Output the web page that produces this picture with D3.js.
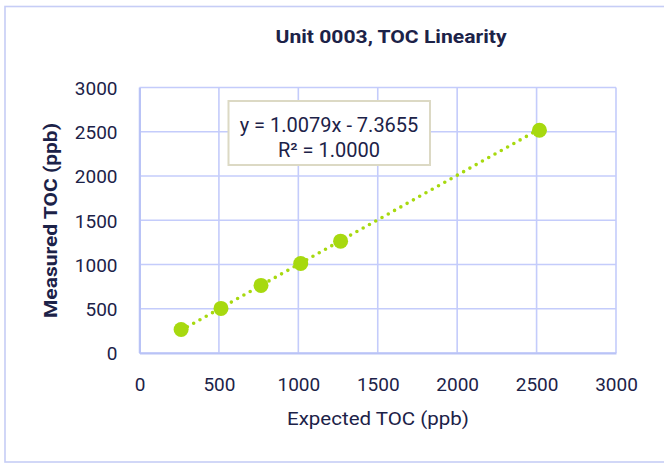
<!DOCTYPE html>
<html>
<head>
<meta charset="utf-8">
<script src="https://cdn.jsdelivr.net/npm/d3@7"></script>
<style>
  html, body { margin: 0; padding: 0; background: #fff; }
  svg { display: block; }
  text { font-family: Roboto, "Noto Sans", sans-serif; fill: #1c2248; }
</style>
</head>
<body>
<svg id="chart" width="664" height="464"></svg>
<script>
// ---- data ----
const chartTitle = "Unit 0003, TOC Linearity";
const xTitle = "Expected TOC (ppb)";
const yTitle = "Measured TOC (ppb)";
const expectedTOC = [262, 513, 765, 1015, 1266, 2518];
const measuredTOC = [265, 504, 764, 1012, 1264, 2517];
const xTicks = [0, 500, 1000, 1500, 2000, 2500, 3000];
const yTicks = [0, 500, 1000, 1500, 2000, 2500, 3000];
const trendSlope = 1.0079;
const trendIntercept = -7.3655;
const trendLabel = ["y = 1.0079x - 7.3655", "R² = 1.0000"];

// ---- layout ----
const svg = d3.select("#chart");
const x = d3.scaleLinear().domain([0, 3000]).range([139.5, 616]);
const y = d3.scaleLinear().domain([0, 3000]).range([353, 87.5]);
const gridColor = "#c4ccfb";
const green = "#a7d90f";

// outer border
svg.append("rect")
  .attr("x", 5).attr("y", 6.5).attr("width", 680).attr("height", 455.5)
  .attr("fill", "none").attr("stroke", "#c6cdf6").attr("stroke-width", 1.6);

// title
svg.append("text")
  .attr("x", 391).attr("y", 43)
  .attr("text-anchor", "middle")
  .attr("font-size", 18).attr("font-weight", "bold")
  .attr("textLength", 231).attr("lengthAdjust", "spacingAndGlyphs")
  .text(chartTitle);

// gridlines
svg.append("g").selectAll("line.v").data(xTicks).join("line")
  .attr("x1", d => x(d)).attr("x2", d => x(d))
  .attr("y1", y(3000)).attr("y2", y(0))
  .attr("stroke", gridColor).attr("stroke-width", 1.6);
svg.append("g").selectAll("line.h").data(yTicks).join("line")
  .attr("x1", x(0)).attr("x2", x(3000))
  .attr("y1", d => y(d)).attr("y2", d => y(d))
  .attr("stroke", gridColor).attr("stroke-width", 1.6);

// axes
const xAxis = d3.axisBottom(x).tickValues(xTicks).tickSize(0).tickPadding(0).tickFormat(d3.format("d"));
const yAxis = d3.axisLeft(y).tickValues(yTicks).tickSize(0).tickPadding(0).tickFormat(d3.format("d"));
const gx = svg.append("g").attr("transform", `translate(0,${y(0)})`).call(xAxis);
gx.select(".domain").attr("stroke", "#b9c3f6").attr("stroke-width", 2);
gx.selectAll("text").attr("y", 38).attr("dy", 0).attr("font-size", 19).attr("fill", "#1c2248");
const gy = svg.append("g").attr("transform", `translate(${x(0)},0)`).call(yAxis);
gy.select(".domain").attr("stroke", "#b9c3f6").attr("stroke-width", 2);
gy.selectAll("text").attr("x", -22).attr("dy", "0.36em").attr("font-size", 19).attr("fill", "#1c2248");
gx.attr("font-family", null); gy.attr("font-family", null);

// axis titles
svg.append("text")
  .attr("x", 378).attr("y", 425)
  .attr("text-anchor", "middle").attr("font-size", 19)
  .attr("textLength", 182).attr("lengthAdjust", "spacingAndGlyphs")
  .text(xTitle);
svg.append("text")
  .attr("transform", "translate(57,220.5) rotate(-90)")
  .attr("text-anchor", "middle").attr("font-size", 18).attr("font-weight", "bold")
  .attr("textLength", 195).attr("lengthAdjust", "spacingAndGlyphs")
  .text(yTitle);

// trendline (dotted)
const xMin = d3.min(expectedTOC), xMax = d3.max(expectedTOC);
const trend = [xMin, xMax].map(v => [v, trendSlope * v + trendIntercept]);
svg.append("path")
  .attr("d", d3.line().x(d => x(d[0])).y(d => y(d[1]))(trend))
  .attr("fill", "none").attr("stroke", green).attr("stroke-width", 3.6)
  .attr("stroke-linecap", "round").attr("stroke-dasharray", "0 7.2");

// points
svg.append("g").selectAll("circle").data(expectedTOC).join("circle")
  .attr("cx", (d) => x(d)).attr("cy", (d, i) => y(measuredTOC[i]))
  .attr("r", 7.5).attr("fill", green);

// trendline label box
const box = svg.append("g");
box.append("rect")
  .attr("x", 228.5).attr("y", 101).attr("width", 201.5).attr("height", 64)
  .attr("fill", "#fff").attr("stroke", "#dcd9c4").attr("stroke-width", 2);
box.selectAll("text").data(trendLabel).join("text")
  .attr("x", 329).attr("y", (d, i) => 131.5 + i * 25.5)
  .attr("text-anchor", "middle").attr("font-size", 20)
  .text(d => d);
</script>
</body>
</html>
